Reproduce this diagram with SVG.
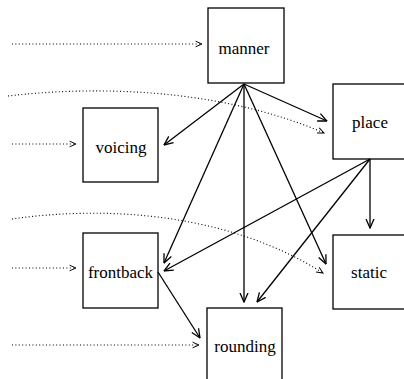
<svg xmlns="http://www.w3.org/2000/svg" width="404" height="379" viewBox="0 0 404 379">
<style>
.box{fill:#fff;stroke:#000;stroke-width:1.3}
.lbl{font-family:"Liberation Serif",serif;font-size:17px;text-anchor:middle;fill:#000}
.sol{fill:none;stroke:#000;stroke-width:1.3}
.dot{fill:none;stroke:#000;stroke-width:1.1;stroke-dasharray:1 2.4}
</style>
<defs>
<marker id="ah" viewBox="0 0 10 10" refX="9.5" refY="5" markerWidth="10" markerHeight="10" markerUnits="userSpaceOnUse" orient="auto">
<path d="M0.5,1 L9.5,5 L0.5,9" fill="none" stroke="#000" stroke-width="1.3"/>
</marker>
<marker id="dh" viewBox="0 0 10 10" refX="9" refY="5" markerWidth="8" markerHeight="8" markerUnits="userSpaceOnUse" orient="auto">
<path d="M1,1.5 L9,5 L1,8.5" fill="none" stroke="#000" stroke-width="1.2"/>
</marker>
</defs>
<rect width="404" height="379" fill="#fff"/>
<g id="manner"><rect class="box" x="208" y="8" width="76" height="75"/><text class="lbl" x="244" y="54">manner</text></g>
<g id="place"><rect class="box" x="333" y="84" width="76" height="75"/><text class="lbl" x="370" y="128">place</text></g>
<g id="voicing"><rect class="box" x="83" y="108" width="75" height="74"/><text class="lbl" x="121" y="153">voicing</text></g>
<g id="frontback"><rect class="box" x="83" y="233" width="75" height="75"/><text class="lbl" x="120.5" y="278">frontback</text></g>
<g id="static"><rect class="box" x="333" y="235" width="76" height="74"/><text class="lbl" x="369" y="278">static</text></g>
<g id="rounding"><rect class="box" x="207" y="308" width="75" height="80"/><text class="lbl" x="245" y="352">rounding</text></g>
<g id="connectors">
<path class="dot" d="M12,44 H202" marker-end="url(#dh)"/>
<path class="dot" d="M8,96 C110,84 230,92 324,133" marker-end="url(#dh)"/>
<path class="dot" d="M12,144 H76" marker-end="url(#dh)"/>
<path class="dot" d="M12,219 C110,205 230,214 323,273" marker-end="url(#dh)"/>
<path class="dot" d="M12,268 H76" marker-end="url(#dh)"/>
<path class="dot" d="M12,345 H199" marker-end="url(#dh)"/>
<path class="sol" d="M244,84 L327,121" marker-end="url(#ah)"/>
<path class="sol" d="M244,84 L164,145" marker-end="url(#ah)"/>
<path class="sol" d="M244,84 L164,263" marker-end="url(#ah)"/>
<path class="sol" d="M244,84 L244,302" marker-end="url(#ah)"/>
<path class="sol" d="M244,84 L326,264" marker-end="url(#ah)"/>
<path class="sol" d="M370,159 L370,228" marker-end="url(#ah)"/>
<path class="sol" d="M370,159 L164,271" marker-end="url(#ah)"/>
<path class="sol" d="M370,159 L257,302" marker-end="url(#ah)"/>
<path class="sol" d="M158,272 L200,338" marker-end="url(#ah)"/>
</g>
</svg>
